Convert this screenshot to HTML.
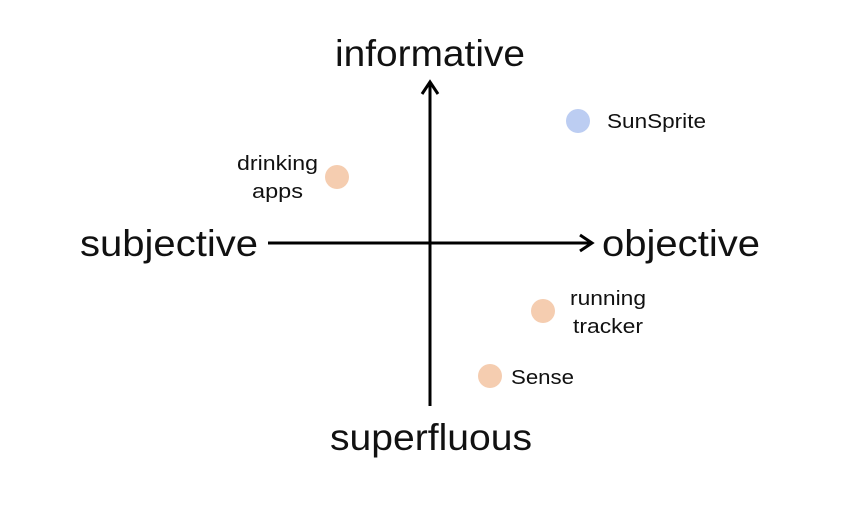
<!DOCTYPE html>
<html><head><style>
body{margin:0;background:#fff}
svg{display:block}
text{font-family:"Liberation Sans",sans-serif;fill:#111}
</style></head><body>
<svg width="850" height="528" viewBox="0 0 850 528">
<line x1="430" y1="406" x2="430" y2="83" stroke="#000" stroke-width="3"/>
<polyline points="422,94 430,82 438,94" fill="none" stroke="#000" stroke-width="3"/>
<line x1="268" y1="243" x2="592" y2="243" stroke="#000" stroke-width="3"/>
<polyline points="580,235 592,243 580,251" fill="none" stroke="#000" stroke-width="3"/>
<text x="335" y="66" font-size="37" textLength="190" lengthAdjust="spacingAndGlyphs">informative</text>
<text x="80" y="256" font-size="37" textLength="178" lengthAdjust="spacingAndGlyphs">subjective</text>
<text x="602" y="256" font-size="37" textLength="158" lengthAdjust="spacingAndGlyphs">objective</text>
<text x="330" y="450" font-size="37" textLength="202" lengthAdjust="spacingAndGlyphs">superfluous</text>
<circle cx="578" cy="121" r="12" fill="#bccdf2"/>
<circle cx="337" cy="177" r="12" fill="#f5cdb0"/>
<circle cx="543" cy="311" r="12" fill="#f5cdb0"/>
<circle cx="490" cy="376" r="12" fill="#f5cdb0"/>
<text x="607" y="128" font-size="20" textLength="99" lengthAdjust="spacingAndGlyphs">SunSprite</text>
<text x="237" y="170" font-size="20" textLength="81" lengthAdjust="spacingAndGlyphs">drinking</text>
<text x="252" y="198" font-size="20" textLength="51" lengthAdjust="spacingAndGlyphs">apps</text>
<text x="570" y="305" font-size="20" textLength="76" lengthAdjust="spacingAndGlyphs">running</text>
<text x="573" y="333" font-size="20" textLength="70" lengthAdjust="spacingAndGlyphs">tracker</text>
<text x="511" y="384" font-size="20" textLength="63" lengthAdjust="spacingAndGlyphs">Sense</text>
</svg>
</body></html>
